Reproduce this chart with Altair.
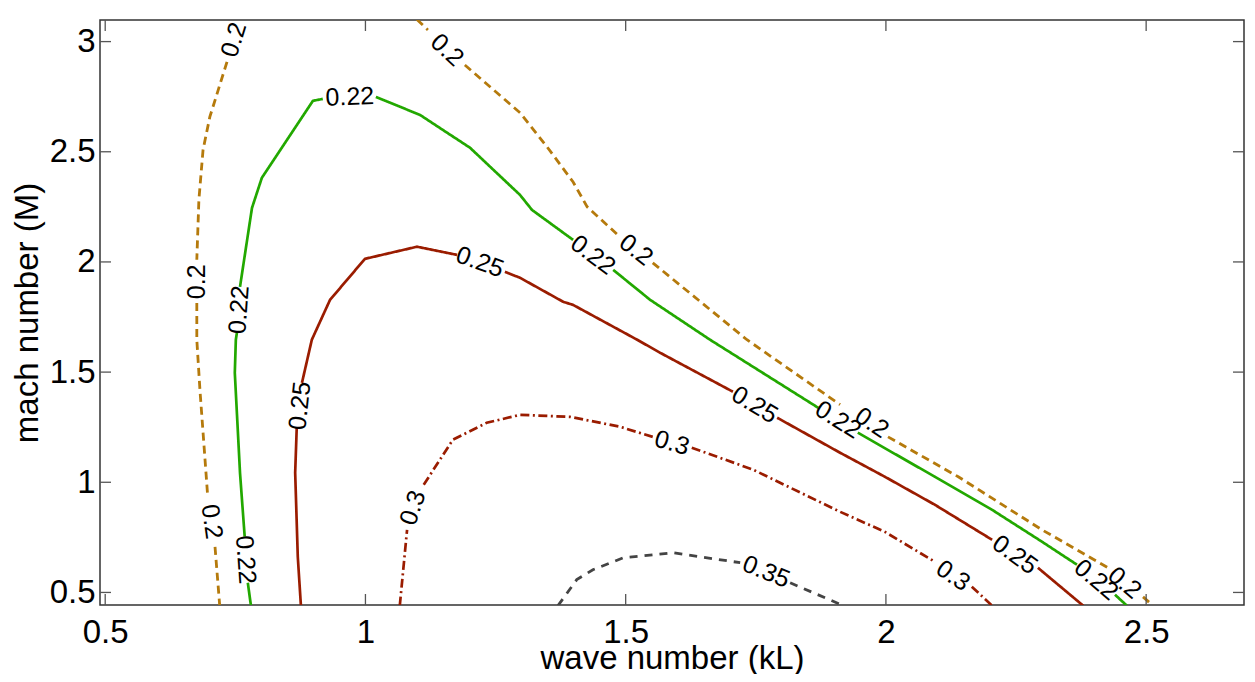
import altair as alt
import pandas as pd

# ---------------- data ----------------
x_ticks = [0.5, 1, 1.5, 2, 2.5]
y_ticks = [0.5, 1, 1.5, 2, 2.5, 3]

# each contour level: list of segments (pieces between the inline labels)
c20_x = [
    [0.734, 0.701, 0.688, 0.680, 0.676],
    [0.676, 0.676, 0.682, 0.697],
    [0.711, 0.720],
    [1.099, 1.120],
    [1.191, 1.297, 1.349, 1.399, 1.426, 1.489],
    [1.552, 1.733, 1.912],
    [2.004, 2.139, 2.300, 2.427],
    [2.494, 2.513],
]
c20_y = [
    [2.908, 2.658, 2.509, 2.282, 2.010],
    [1.814, 1.647, 1.420, 0.934],
    [0.707, 0.44],
    [3.10, 3.053],
    [2.894, 2.677, 2.522, 2.363, 2.250, 2.114],
    [1.996, 1.647, 1.352],
    [1.206, 1.025, 0.784, 0.612],
    [0.480, 0.44],
]

c22_x = [
    [0.780, 0.774],
    [0.768, 0.759, 0.749, 0.751, 0.753],
    [0.759, 0.782, 0.801, 0.899, 0.918],
    [1.020, 1.105, 1.201, 1.297, 1.320, 1.399],
    [1.476, 1.547, 1.662, 1.870],
    [1.946, 2.094, 2.204, 2.300, 2.367],
    [2.440, 2.463],
]
c22_y = [
    [0.44, 0.544],
    [0.753, 1.043, 1.497, 1.647, 1.678],
    [1.887, 2.245, 2.382, 2.731, 2.740],
    [2.749, 2.667, 2.518, 2.304, 2.236, 2.100],
    [1.964, 1.828, 1.647, 1.338],
    [1.225, 1.025, 0.875, 0.730, 0.626],
    [0.490, 0.44],
]

c25_x = [
    [0.876, 0.870, 0.865, 0.868],
    [0.878, 0.897, 0.932, 0.999, 1.099, 1.176],
    [1.268, 1.297, 1.380, 1.399, 1.522, 1.566, 1.706],
    [1.791, 1.912, 1.998, 2.094, 2.204],
    [2.292, 2.379],
]
c25_y = [
    [0.44, 0.662, 1.043, 1.247],
    [1.451, 1.647, 1.828, 2.014, 2.069, 2.032],
    [1.955, 1.928, 1.819, 1.805, 1.647, 1.588, 1.411],
    [1.293, 1.134, 1.025, 0.898, 0.739],
    [0.612, 0.44],
]

c30_x = [
    [1.066, 1.080],
    [1.112, 1.168, 1.233, 1.297, 1.393, 1.489, 1.552],
    [1.627, 1.745, 1.912, 1.998, 2.094],
    [2.165, 2.204],
]
c30_y = [
    [0.44, 0.784],
    [0.989, 1.193, 1.270, 1.306, 1.297, 1.252, 1.206],
    [1.157, 1.057, 0.866, 0.775, 0.639],
    [0.526, 0.44],
]

c35_x = [
    [1.370, 1.406, 1.437, 1.495, 1.591, 1.720],
    [1.816, 1.918],
]
c35_y = [
    [0.44, 0.558, 0.603, 0.657, 0.680, 0.635],
    [0.544, 0.44],
]

# inline contour labels
label_text = ["0.2", "0.2", "0.2", "0.2", "0.2", "0.2", "0.2",
              "0.22", "0.22", "0.22", "0.22", "0.22", "0.22",
              "0.25", "0.25", "0.25", "0.25",
              "0.3", "0.3", "0.3",
              "0.35"]
label_x = [0.747, 0.676, 0.705, 1.157, 1.520, 1.973, 2.459,
           0.770, 0.757, 0.970, 1.437, 1.908, 2.404,
           0.874, 1.220, 1.748, 2.248,
           1.091, 1.589, 2.129,
           1.770]
label_y = [3.008, 1.910, 0.821, 2.962, 2.055, 1.270, 0.544,
           0.648, 1.783, 2.749, 2.032, 1.284, 0.558,
           1.347, 2.000, 1.352, 0.671,
           0.884, 1.179, 0.576,
           0.594]
label_angle = [287, 270, 82, 43, 38, 34, 40,
               86, 274, 358, 37, 32, 40,
               276, 20, 31, 36,
               288, 16, 34,
               22]

# ---------------- styling ----------------
FONT = "Liberation Sans"
W, H = 1144, 585
styles = [
    (c20_x, c20_y, "#B57A0C", [8, 5], 2.8),
    (c22_x, c22_y, "#22A800", [1, 0], 2.7),
    (c25_x, c25_y, "#9A1C00", [1, 0], 2.7),
    (c30_x, c30_y, "#9A1C00", [9, 3.5, 2, 3.5], 2.7),
    (c35_x, c35_y, "#444444", [8, 7], 2.8),
]

xscale = alt.Scale(domain=[0.49, 2.688], nice=False, zero=False)
yscale = alt.Scale(domain=[0.443, 3.098], nice=False, zero=False)

xaxis = alt.Axis(values=x_ticks, format="~g", title="wave number (kL)",
                 ticks=False, grid=False, domain=False,
                 labelFont=FONT, labelFontSize=33, labelColor="black",
                 labelPadding=37, labelBaseline="alphabetic",
                 labelFlush=False, labelOverlap=False,
                 titleFont=FONT, titleFontSize=33, titleFontWeight="normal",
                 titleColor="black", titleBaseline="alphabetic", titleY=63)
yaxis = alt.Axis(values=y_ticks, format="~g", title="mach number (M)",
                 ticks=False, grid=False, domain=False,
                 labelFont=FONT, labelFontSize=33, labelColor="black",
                 labelPadding=5, labelBaseline="middle",
                 labelFlush=False, labelOverlap=False,
                 titleFont=FONT, titleFontSize=33, titleFontWeight="normal",
                 titleColor="black", titleAngle=270,
                 titleBaseline="alphabetic", titleX=-63)

def X():
    return alt.X("x:Q", scale=xscale, axis=xaxis)

def Y():
    return alt.Y("y:Q", scale=yscale, axis=yaxis)

layers = []
for xs_list, ys_list, color, dash, sw in styles:
    rows = []
    for si, (xs, ys) in enumerate(zip(xs_list, ys_list)):
        for oi, (xv, yv) in enumerate(zip(xs, ys)):
            rows.append({"x": xv, "y": yv, "seg": si, "o": oi})
    df = pd.DataFrame(rows)
    layers.append(
        alt.Chart(df).mark_line(color=color, strokeDash=dash, strokeWidth=sw,
                                clip=True, strokeCap="butt")
        .encode(x=X(), y=Y(), detail="seg:N", order="o:Q")
    )

labels_df = pd.DataFrame({"x": label_x, "y": label_y,
                          "t": label_text, "angle": label_angle})
layers.append(
    alt.Chart(labels_df).mark_text(font=FONT, fontSize=25, color="black",
                                   align="center", baseline="middle")
    .encode(x=X(), y=Y(), text="t:N", angle=alt.Angle("angle:Q", scale=None))
)

# inward ticks on all four sides
xt = pd.DataFrame({"x": x_ticks})
yt = pd.DataFrame({"y": y_ticks})
tick_style = dict(color="#555555", strokeWidth=1.3)
layers.append(alt.Chart(xt).mark_rule(**tick_style).encode(
    x=X(), y=alt.value(H), y2=alt.value(H - 11)))
layers.append(alt.Chart(xt).mark_rule(**tick_style).encode(
    x=X(), y=alt.value(0), y2=alt.value(11)))
layers.append(alt.Chart(yt).mark_rule(**tick_style).encode(
    y=Y(), x=alt.value(0), x2=alt.value(11)))
layers.append(alt.Chart(yt).mark_rule(**tick_style).encode(
    y=Y(), x=alt.value(W), x2=alt.value(W - 11)))

chart = (
    alt.layer(*layers)
    .properties(width=W, height=H,
                autosize=alt.AutoSizeParams(type="none"),
                padding={"left": 92, "top": 12, "right": 3, "bottom": 69})
    .configure_view(stroke="#333333", strokeWidth=1.5)
)

chart.save("out.html", embed_options={"renderer": "svg", "actions": False})
